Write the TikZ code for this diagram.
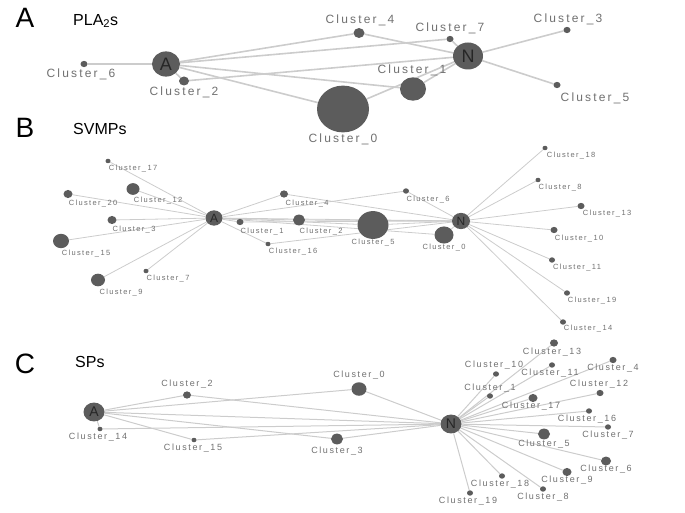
\documentclass[tikz,border=0pt]{standalone}
\usepackage{fontspec}
\setmainfont{Liberation Sans}
\newfontfamily\clufont[LetterSpace=18]{Liberation Sans}
\usetikzlibrary{shapes.geometric,backgrounds}
\definecolor{nodegray}{RGB}{92,92,92}
\definecolor{wiregray}{RGB}{204,204,204}
\definecolor{textgray}{RGB}{112,112,112}

\begin{document}
\begin{tikzpicture}[x=1pt,y=-1pt,
    clu/.style={ellipse,fill=nodegray,inner sep=0pt,minimum width=#1,minimum height=0.9*#1},
    panel/.style={inner sep=0pt,font=\fontsize{28}{28}\selectfont},
    title/.style={inner sep=0pt,anchor=west,font=\fontsize{16}{16}\selectfont}]
  \useasboundingbox (0,0) rectangle (685,513);

  % A: PLA2s
  \node[panel] (pA) at (25,18) {A};
  \node[title] (tA) at (73,21) {PLA\textsubscript{2}s};
  \begin{scope}
    \tikzset{lbl/.style={text=textgray,inner sep=0pt,font=\clufont\fontsize{12}{12}\selectfont}}
    \node[clu=28,text=black!85,font=\fontsize{18}{18}\selectfont] (aA) at (166,64) {A};
    \node[clu=30,text=black!85,font=\fontsize{18}{18}\selectfont] (aN) at (468,56) {N};
    \node[clu=52] (a0) at (343,109) {};
    \node[clu=26] (a1) at (413,89) {};
    \node[clu=10] (a2) at (184,81) {};
    \node[clu=7] (a3) at (567,30) {};
    \node[clu=11] (a4) at (359,33) {};
    \node[clu=7] (a5) at (557,85) {};
    \node[clu=7] (a6) at (84,64) {};
    \node[clu=7] (a7) at (450,39) {};
    \node[lbl] (a0t) at (343,139) {Cluster\_0};
    \node[lbl] (a1t) at (412,70) {Cluster\_1};
    \node[lbl] (a2t) at (184,92) {Cluster\_2};
    \node[lbl] (a3t) at (568,19) {Cluster\_3};
    \node[lbl] (a4t) at (360,20) {Cluster\_4};
    \node[lbl] (a5t) at (595,98) {Cluster\_5};
    \node[lbl] (a6t) at (81,74) {Cluster\_6};
    \node[lbl] (a7t) at (450,28) {Cluster\_7};
  \end{scope}
  \begin{scope}[on background layer,every edge/.style={draw=wiregray,line width=1.6pt}]
    \path (aA) edge (a6) edge (a2) edge (a4) edge (a7) edge (a1) edge (a0);
    \path (aN) edge (a2) edge (a4) edge (a7) edge (a1) edge (a0) edge (a3) edge (a5);
  \end{scope}

  % B: SVMPs
  \node[panel] (pB) at (25,128) {B};
  \node[title] (tB) at (73,129) {SVMPs};
  \begin{scope}
    \tikzset{lbl/.style={text=textgray,inner sep=0pt,font=\clufont\fontsize{7.5}{7.5}\selectfont}}
    \node[clu=17,text=black!85,font=\fontsize{12}{12}\selectfont] (bA) at (214,218) {A};
    \node[clu=18,text=black!85,font=\fontsize{12}{12}\selectfont] (bN) at (461,221) {N};
    \node[clu=31] (b5) at (373,225) {};
    \node[clu=19] (b0) at (444,235) {};
    \node[clu=12] (b2) at (299,220) {};
    \node[clu=7] (b1) at (240,222) {};
    \node[clu=8] (b4) at (284,194) {};
    \node[clu=5] (b16) at (268,244) {};
    \node[clu=6] (b6) at (406,191) {};
    \node[clu=5] (b17) at (108,161) {};
    \node[clu=13] (b12) at (133,189) {};
    \node[clu=9] (b20) at (68,194) {};
    \node[clu=9] (b3) at (112,220) {};
    \node[clu=16] (b15) at (61,241) {};
    \node[clu=14] (b9) at (98,280) {};
    \node[clu=5] (b7) at (146,271) {};
    \node[clu=5] (b18) at (545,148) {};
    \node[clu=5] (b8) at (538,180) {};
    \node[clu=7] (b13) at (581,206) {};
    \node[clu=7] (b10) at (554,230) {};
    \node[clu=6] (b11) at (552,260) {};
    \node[clu=6] (b19) at (567,293) {};
    \node[clu=6] (b14) at (563,322) {};
    \node[lbl] (b5t) at (373,243) {Cluster\_5};
    \node[lbl] (b0t) at (444,248) {Cluster\_0};
    \node[lbl] (b2t) at (321,232) {Cluster\_2};
    \node[lbl] (b1t) at (262,232) {Cluster\_1};
    \node[lbl] (b4t) at (307,204) {Cluster\_4};
    \node[lbl] (b16t) at (293,252) {Cluster\_16};
    \node[lbl] (b6t) at (428,200) {Cluster\_6};
    \node[lbl] (b17t) at (133,169) {Cluster\_17};
    \node[lbl] (b12t) at (158,201) {Cluster\_12};
    \node[lbl] (b20t) at (93,204) {Cluster\_20};
    \node[lbl] (b3t) at (134,230) {Cluster\_3};
    \node[lbl] (b15t) at (86,254) {Cluster\_15};
    \node[lbl] (b9t) at (121,293) {Cluster\_9};
    \node[lbl] (b7t) at (168,279) {Cluster\_7};
    \node[lbl] (b18t) at (571,156) {Cluster\_18};
    \node[lbl] (b8t) at (560,188) {Cluster\_8};
    \node[lbl] (b13t) at (607,214) {Cluster\_13};
    \node[lbl] (b10t) at (579,239) {Cluster\_10};
    \node[lbl] (b11t) at (577,268) {Cluster\_11};
    \node[lbl] (b19t) at (592,301) {Cluster\_19};
    \node[lbl] (b14t) at (588,329) {Cluster\_14};
  \end{scope}
  \begin{scope}[on background layer,every edge/.style={draw=wiregray,line width=0.8pt}]
    \path (bA) edge (b17) edge (b12) edge (b20) edge (b3) edge (b15) edge (b9) edge (b7);
    \path (bA) edge (b4) edge (b6) edge (b1) edge (b2) edge (b16) edge (b5) edge (b0) edge (bN);
    \path (bN) edge (b4) edge (b6) edge (b1) edge (b2) edge (b16) edge (b5) edge (b0);
    \path (bN) edge (b18) edge (b8) edge (b13) edge (b10) edge (b11) edge (b19) edge (b14);
  \end{scope}

  % C: SPs
  \node[panel] (pC) at (25,364) {C};
  \node[title] (tC) at (75,362) {SPs};
  \begin{scope}
    \tikzset{lbl/.style={text=textgray,inner sep=0pt,font=\clufont\fontsize{9}{9}\selectfont}}
    \node[clu=21,text=black!85,font=\fontsize{14}{14}\selectfont] (cA) at (94,412) {A};
    \node[clu=21,text=black!85,font=\fontsize{14}{14}\selectfont] (cN) at (451,424) {N};
    \node[clu=8] (c2) at (187,395) {};
    \node[clu=15] (c0) at (359,389) {};
    \node[clu=5] (c14) at (100,429) {};
    \node[clu=5] (c15) at (194,440) {};
    \node[clu=12] (c3) at (337,439) {};
    \node[clu=8] (c13) at (554,343) {};
    \node[clu=6] (c10) at (496,374) {};
    \node[clu=6] (c11) at (552,365) {};
    \node[clu=7] (c4) at (613,360) {};
    \node[clu=6] (c1) at (490,396) {};
    \node[clu=7] (c12) at (600,393) {};
    \node[clu=9] (c17) at (533,398) {};
    \node[clu=6] (c16) at (589,411) {};
    \node[clu=6] (c7) at (608,427) {};
    \node[clu=12] (c5) at (544,434) {};
    \node[clu=10] (c6) at (606,461) {};
    \node[clu=9] (c9) at (567,472) {};
    \node[clu=6] (c18) at (502,476) {};
    \node[clu=6] (c8) at (543,489) {};
    \node[clu=6] (c19) at (470,493) {};
    \node[lbl] (c2t) at (187,384) {Cluster\_2};
    \node[lbl] (c0t) at (359,375) {Cluster\_0};
    \node[lbl] (c14t) at (98,437) {Cluster\_14};
    \node[lbl] (c15t) at (193,448) {Cluster\_15};
    \node[lbl] (c3t) at (337,451) {Cluster\_3};
    \node[lbl] (c13t) at (552,352) {Cluster\_13};
    \node[lbl] (c10t) at (494,365) {Cluster\_10};
    \node[lbl] (c11t) at (550,373) {Cluster\_11};
    \node[lbl] (c4t) at (613,368) {Cluster\_4};
    \node[lbl] (c1t) at (490,388) {Cluster\_1};
    \node[lbl] (c12t) at (599,384) {Cluster\_12};
    \node[lbl] (c17t) at (531,406) {Cluster\_17};
    \node[lbl] (c16t) at (587,419) {Cluster\_16};
    \node[lbl] (c7t) at (608,435) {Cluster\_7};
    \node[lbl] (c5t) at (544,444) {Cluster\_5};
    \node[lbl] (c6t) at (606,469) {Cluster\_6};
    \node[lbl] (c9t) at (567,480) {Cluster\_9};
    \node[lbl] (c18t) at (500,484) {Cluster\_18};
    \node[lbl] (c8t) at (543,497) {Cluster\_8};
    \node[lbl] (c19t) at (468,501) {Cluster\_19};
  \end{scope}
  \begin{scope}[on background layer,every edge/.style={draw=wiregray,line width=1pt}]
    \path (cA) edge (c2) edge (c0) edge (c14) edge (c15) edge (c3) edge (cN);
    \path (cN) edge (c2) edge (c0) edge (c14) edge (c15) edge (c3);
    \path (cN) edge (c13) edge (c10) edge (c11) edge (c4) edge (c1) edge (c12) edge (c17) edge (c16);
    \path (cN) edge (c7) edge (c5) edge (c6) edge (c9) edge (c18) edge (c8) edge (c19);
  \end{scope}
\end{tikzpicture}
\end{document}
